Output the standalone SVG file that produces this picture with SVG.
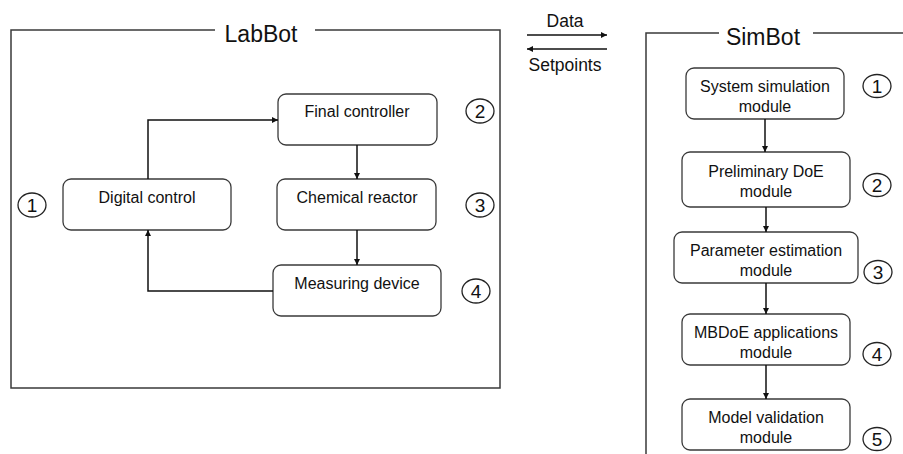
<svg xmlns="http://www.w3.org/2000/svg" width="903" height="454" viewBox="0 0 903 454">
  <style>
    .frame { fill: none; stroke: #3a3a3a; stroke-width: 1.5; }
    .box { fill: #ffffff; stroke: #3a3a3a; stroke-width: 1.3; }
    .lbl { font-family: "Liberation Sans", Arial, sans-serif; font-size: 16px; fill: #111; text-anchor: middle; }
    .title { font-family: "Liberation Sans", Arial, sans-serif; font-size: 23px; fill: #111; text-anchor: middle; }
    .io { font-family: "Liberation Sans", Arial, sans-serif; font-size: 17.5px; fill: #111; text-anchor: middle; }
    .num { fill: none; stroke: #222; stroke-width: 1.3; }
    .numt { font-family: "Liberation Sans", Arial, sans-serif; font-size: 19px; fill: #111; text-anchor: middle; }
    .conn { fill: none; stroke: #111; stroke-width: 1.5; }
  </style>
  <defs>
    <marker id="arr" viewBox="0 0 8 8" refX="8" refY="4" markerWidth="7" markerHeight="6" markerUnits="userSpaceOnUse" orient="auto">
      <path d="M0,0 L8,4 L0,8 z" fill="#111"/>
    </marker>
  </defs>
  <rect width="903" height="454" fill="#ffffff"/>

  <g id="labbot-frame">
    <path class="frame" d="M215,30 H11 V388 H500 V30 H315"/>
    <text class="title" x="261" y="42">LabBot</text>
  </g>
  <g id="simbot-frame">
    <path class="frame" d="M719,33 H646 V454 M813,33 H903"/>
    <text class="title" x="763" y="45">SimBot</text>
  </g>

  <g id="final-controller">
    <rect class="box" x="278" y="94" width="159" height="51" rx="8"/>
    <text class="lbl" x="357" y="117">Final controller</text>
  </g>
  <g id="digital-control">
    <rect class="box" x="63" y="179" width="168" height="51" rx="8"/>
    <text class="lbl" x="147" y="203">Digital control</text>
  </g>
  <g id="chemical-reactor">
    <rect class="box" x="277" y="179" width="159" height="51" rx="8"/>
    <text class="lbl" x="357" y="203">Chemical reactor</text>
  </g>
  <g id="measuring-device">
    <rect class="box" x="273" y="265" width="168" height="51" rx="8"/>
    <text class="lbl" x="357" y="289">Measuring device</text>
  </g>

  <g id="lab-num-1"><ellipse class="num" cx="32" cy="205" rx="14" ry="12"/><text class="numt" x="32" y="212">1</text></g>
  <g id="lab-num-2"><ellipse class="num" cx="480" cy="111" rx="14" ry="12"/><text class="numt" x="480" y="118">2</text></g>
  <g id="lab-num-3"><ellipse class="num" cx="480" cy="205" rx="14" ry="12"/><text class="numt" x="480" y="212">3</text></g>
  <g id="lab-num-4"><ellipse class="num" cx="476" cy="291" rx="14" ry="12"/><text class="numt" x="476" y="298">4</text></g>

  <g id="sys-sim">
    <rect class="box" x="686" y="68" width="158" height="51" rx="8"/>
    <text class="lbl" x="765" y="92">System simulation</text>
    <text class="lbl" x="765" y="112">module</text>
  </g>
  <g id="pre-doe">
    <rect class="box" x="682" y="152" width="168" height="55" rx="8"/>
    <text class="lbl" x="766" y="177">Preliminary DoE</text>
    <text class="lbl" x="766" y="197">module</text>
  </g>
  <g id="param-est">
    <rect class="box" x="674" y="232" width="184" height="51" rx="8"/>
    <text class="lbl" x="766" y="256">Parameter estimation</text>
    <text class="lbl" x="766" y="276">module</text>
  </g>
  <g id="mbdoe">
    <rect class="box" x="682" y="314" width="168" height="51" rx="8"/>
    <text class="lbl" x="766" y="338">MBDoE applications</text>
    <text class="lbl" x="766" y="358">module</text>
  </g>
  <g id="model-val">
    <rect class="box" x="682" y="399" width="168" height="51" rx="8"/>
    <text class="lbl" x="766" y="423">Model validation</text>
    <text class="lbl" x="766" y="443">module</text>
  </g>

  <g id="sim-num-1"><ellipse class="num" cx="877" cy="86" rx="14" ry="11.5"/><text class="numt" x="877" y="93">1</text></g>
  <g id="sim-num-2"><ellipse class="num" cx="877" cy="185" rx="14" ry="11.5"/><text class="numt" x="877" y="192">2</text></g>
  <g id="sim-num-3"><ellipse class="num" cx="878" cy="272" rx="14" ry="11.5"/><text class="numt" x="878" y="279">3</text></g>
  <g id="sim-num-4"><ellipse class="num" cx="877" cy="354" rx="14" ry="11.5"/><text class="numt" x="877" y="361">4</text></g>
  <g id="sim-num-5"><ellipse class="num" cx="877" cy="439" rx="14" ry="11.5"/><text class="numt" x="877" y="446">5</text></g>

  <g id="io-labels">
    <text class="io" x="565" y="27">Data</text>
    <text class="io" x="565" y="71">Setpoints</text>
  </g>

  <g id="connectors">
    <path class="conn" d="M148,179 V120 H278" marker-end="url(#arr)"/>
    <path class="conn" d="M357,145 V179" marker-end="url(#arr)"/>
    <path class="conn" d="M357,230 V265" marker-end="url(#arr)"/>
    <path class="conn" d="M273,291 H148 V230" marker-end="url(#arr)"/>
    <path class="conn" d="M527,35 H607" marker-end="url(#arr)"/>
    <path class="conn" d="M607,49 H527" marker-end="url(#arr)"/>
    <path class="conn" d="M765,119 V152" marker-end="url(#arr)"/>
    <path class="conn" d="M766,207 V232" marker-end="url(#arr)"/>
    <path class="conn" d="M766,283 V314" marker-end="url(#arr)"/>
    <path class="conn" d="M766,365 V399" marker-end="url(#arr)"/>
  </g>
</svg>
